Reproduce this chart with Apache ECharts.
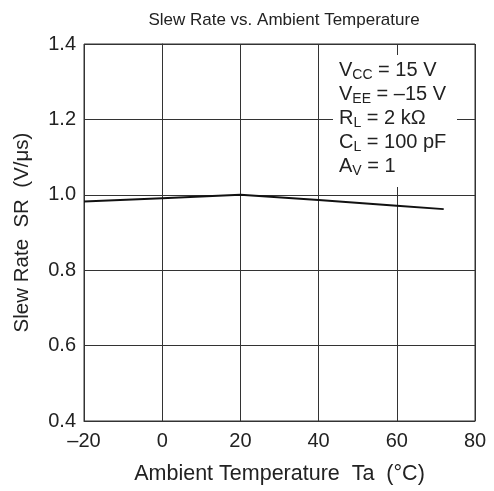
<!DOCTYPE html>
<html><head><meta charset="utf-8">
<script src="https://cdn.jsdelivr.net/npm/echarts@6/dist/echarts.min.js"></script>
<style>html,body{margin:0;padding:0;background:#fff}#c{width:494px;height:491px}</style>
</head><body><div id="c"></div>
<script>
const temps = [-20, 0, 20, 40, 60, 72];
const slewRate = [0.982, 0.991, 1.0, 0.986, 0.971, 0.962];
const xTicks = [-20, 0, 20, 40, 60, 80];
const yTicks = [0.4, 0.6, 0.8, 1.0, 1.2, 1.4];
const titleText = 'Slew Rate vs. Ambient Temperature';
const xName = 'Ambient Temperature  Ta  (\u00B0C)';
const yName = 'Slew Rate  SR  (V/\u03BCs)';
const conds = [
  ['V', 'CC', ' = 15 V'],
  ['V', 'EE', ' = \u201315 V'],
  ['R', 'L', ' = 2 k\u03A9'],
  ['C', 'L', ' = 100 pF'],
  ['A', 'V', ' = 1']
];
const F = 'Liberation Sans, Arial, sans-serif';
const chart = echarts.init(document.getElementById('c'));
const condText = conds.map(c => '{m|' + c[0] + '}{s|' + c[1] + '}{m|' + c[2] + '}').join('\n');
chart.setOption({
  animation: false,
  title: {text: titleText, left: 279, top: 7, textAlign: 'center',
    textStyle: {fontFamily: F, fontSize: 17, fontWeight: 'normal', color: '#222'}},
  grid: {left: 84, top: 44, right: 19, bottom: 70, show: true, borderColor: '#333', borderWidth: 1},
  xAxis: {type: 'value', min: -20, max: 80, interval: 20,
    name: xName, nameLocation: 'middle', nameGap: 42,
    nameTextStyle: {fontFamily: F, fontSize: 21.5, color: '#222'},
    axisLine: {show: true, lineStyle: {color: '#333'}}, axisTick: {show: false},
    axisLabel: {fontFamily: F, fontSize: 20, color: '#222', margin: 10,
      formatter: v => String(v).replace('-', '\u2013')},
    splitLine: {show: true, lineStyle: {color: '#333', width: 1}}},
  yAxis: {type: 'value', min: 0.4, max: 1.4, interval: 0.2,
    name: yName, nameLocation: 'middle', nameGap: 51,
    nameTextStyle: {fontFamily: F, fontSize: 20.5, color: '#222'},
    axisLine: {show: true, lineStyle: {color: '#333'}}, axisTick: {show: false},
    axisLabel: {fontFamily: F, fontSize: 20, color: '#222', margin: 8,
      formatter: v => v.toFixed(1)},
    splitLine: {show: true, lineStyle: {color: '#333', width: 1}}},
  series: [{type: 'line', data: temps.map((t, i) => [t, slewRate[i]]),
    showSymbol: false, lineStyle: {color: '#111', width: 2}}],
  graphic: [
    {type: 'rect', shape: {x: 333, y: 55, width: 124, height: 132}, style: {fill: '#fff'}, z: 50},
    {type: 'text', left: 339, top: 58, z: 51,
      style: {text: condText, fontFamily: F, fontSize: 20, fill: '#222', lineHeight: 24,
        rich: {m: {fontSize: 20, fontFamily: F, fill: '#222', lineHeight: 24},
               s: {fontSize: 14, fontFamily: F, fill: '#222', lineHeight: 24, padding: [10, 0, 0, 0]}}}}
  ]
});
</script></body></html>
